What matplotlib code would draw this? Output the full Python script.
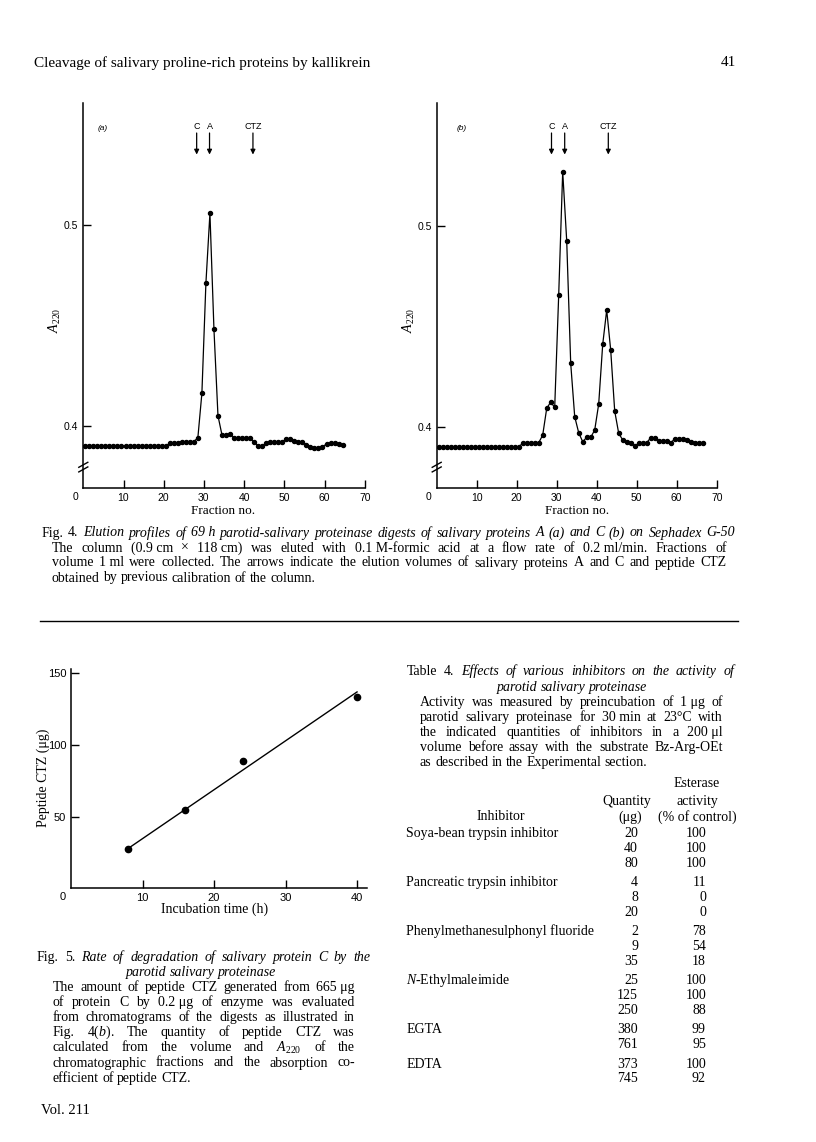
import numpy as np
import matplotlib
matplotlib.use('Agg')
import matplotlib.pyplot as plt

W, H = 816, 1142
SERIF = 'Liberation Serif'
SANS = 'Liberation Sans'
plt.rcParams['font.family'] = SANS
plt.rcParams['mathtext.fontset'] = 'custom'
plt.rcParams['mathtext.rm'] = SERIF
plt.rcParams['mathtext.it'] = SERIF + ':italic'
plt.rcParams['mathtext.bf'] = SERIF + ':bold'

# Fig. 4(a): protein A digest
frac_a = np.arange(0.5, 65, 1.0)
a220_a = [0.390, 0.390, 0.390, 0.390, 0.390, 0.390, 0.390, 0.390, 0.390, 0.390,
          0.390, 0.390, 0.390, 0.390, 0.390, 0.390, 0.390, 0.390, 0.390, 0.390,
          0.390, 0.3914, 0.3914, 0.3914, 0.3922, 0.3922, 0.3922, 0.3922, 0.3942, 0.4163,
          0.4711, 0.5058, 0.4481, 0.4051, 0.3955, 0.3955, 0.3960, 0.3942, 0.3939, 0.3939,
          0.3939, 0.3939, 0.3920, 0.3900, 0.3900, 0.3914, 0.3922, 0.3922, 0.3922, 0.3922,
          0.3935, 0.3935, 0.3925, 0.3922, 0.3922, 0.3905, 0.3897, 0.3889, 0.3889, 0.3897,
          0.3910, 0.3914, 0.3914, 0.3910, 0.3905]
arrows_a = {'C': 28.2, 'A': 31.4, 'CTZ': 42.2}

# Fig. 4(b): protein C digest
frac_b = np.arange(0.5, 67, 1.0)
a220_b = [0.390, 0.390, 0.390, 0.390, 0.390, 0.390, 0.390, 0.390, 0.390, 0.390,
          0.390, 0.390, 0.390, 0.390, 0.390, 0.390, 0.390, 0.390, 0.390, 0.390,
          0.390, 0.3917, 0.3920, 0.3920, 0.3920, 0.3920, 0.3958, 0.4091, 0.4123, 0.4096,
          0.4656, 0.5271, 0.4927, 0.4316, 0.4050, 0.3970, 0.3925, 0.3947, 0.3947, 0.3983,
          0.4113, 0.4410, 0.4581, 0.4382, 0.4078, 0.3967, 0.3934, 0.3925, 0.3920, 0.3905,
          0.3917, 0.3917, 0.3920, 0.3945, 0.3945, 0.3929, 0.3929, 0.3929, 0.3920, 0.3939,
          0.3939, 0.3939, 0.3934, 0.3925, 0.3917, 0.3917, 0.3917]
arrows_b = {'C': 28.7, 'A': 32.0, 'CTZ': 42.9}

# Fig. 5
time_h = [8, 16, 24, 40]
ctz_ug = [27.4, 54.7, 89.0, 133.7]
fit_h = [8.2, 40]
fit_ug = [28.5, 137.0]

# Table 4
inhibitors = ['Soya-bean trypsin inhibitor', 'Pancreatic trypsin inhibitor',
              'Phenylmethanesulphonyl fluoride', r'$\mathit{N}$-Ethylmaleimide',
              'EGTA', 'EDTA']
quantity = [[20, 40, 80], [4, 8, 20], [2, 9, 35], [25, 125, 250], [380, 761], [373, 745]]
activity = [[100, 100, 100], [11, 0, 0], [78, 54, 18], [100, 100, 88], [99, 95], [100, 92]]

fig = plt.figure(figsize=(W / 100, H / 100), dpi=100)
fig.patch.set_facecolor('white')
renderer = fig.canvas.get_renderer()


def P(x, y):
    return x / W, 1 - y / H


def text_line(x0, y, runs, size, x1=None, ha='left'):
    # words are placed one by one so that justified lines fill the measure
    words = [(w.replace('~', ' '), st) for txt, st in runs for w in txt.split()]
    arts = [fig.text(0, 0, w, family=SERIF, style=st, fontsize=size, va='baseline')
            for w, st in words]
    widths = [a.get_window_extent(renderer).width for a in arts]
    space = 0.25 * size * 100 / 72
    if x1 is not None and len(arts) > 1:
        gap = (x1 - x0 - sum(widths)) / (len(arts) - 1)
        x = x0
    else:
        gap = space
        total = sum(widths) + space * (len(arts) - 1)
        x = x0 - total / 2 if ha == 'center' else x0
    for a, wd in zip(arts, widths):
        a.set_position(P(x, y))
        x += wd + gap


def add_axes(l, t, r, b):
    return fig.add_axes([l / W, 1 - b / H, (r - l) / W, (b - t) / H])


def style(ax, size):
    for s in ['top', 'right']:
        ax.spines[s].set_visible(False)
    for s in ['left', 'bottom']:
        ax.spines[s].set_linewidth(1.1)
    ax.tick_params(direction='in', length=6, width=1.0, labelsize=size, pad=3.5)
    ax.patch.set_alpha(0)


# header
fig.text(*P(34.5, 66.5), 'Cleavage of salivary proline-rich proteins by kallikrein',
         family=SERIF, fontsize=11, va='baseline')
fig.text(*P(736, 66.5), '41', family=SERIF, fontsize=11, va='baseline', ha='right')

# Fig. 4 panels
panels = [
    ((83.3, 103, 364.7, 487.7), (0.3693, 0.5607), frac_a, a220_a, arrows_a, '(a)', 103, 223),
    ((436.7, 103, 716.7, 487.7), (0.3696, 0.5613), frac_b, a220_b, arrows_b, '(b)', 462, 577),
]
for box, ylim, fx, fy, arr, tag, tag_x, xlab_x in panels:
    ax = add_axes(*box)
    style(ax, 7.5)
    ax.plot(fx, fy, '-o', color='k', lw=0.9, ms=2.9)
    ax.set_xlim(0, 70)
    ax.set_ylim(*ylim)
    ax.set_xticks([10, 20, 30, 40, 50, 60, 70])
    ax.set_yticks([0.4, 0.5])
    ax.set_yticklabels(['0.4', '0.5'])
    for name, pos in arr.items():
        ax.annotate('', xy=(pos, 0.866), xytext=(pos, 0.922),
                    xycoords=('data', 'axes fraction'),
                    arrowprops=dict(arrowstyle='-|>', lw=0.9, color='k',
                                    mutation_scale=7, shrinkA=0, shrinkB=0))
        ax.text(pos, 0.926, name, transform=ax.get_xaxis_transform(),
                ha='center', va='bottom', fontsize=6.5)
    # axis break marks
    for dy in (-0.006, 0.006):
        ax.plot([-0.016, 0.016], [0.047 + dy, 0.060 + dy], transform=ax.transAxes,
                color='k', lw=1.0, clip_on=False)
    l = box[0]
    fig.text(*P(tag_x, 129), tag, fontsize=6, style='italic', va='center', ha='center')
    fig.text(*P(l - 8, 497), '0', fontsize=7.5, va='center', ha='center')
    fig.text(*P(xlab_x, 514), 'Fraction no.', family=SERIF, fontsize=9.5,
             va='baseline', ha='center')
    fig.text(*P(l - 28, 320), r'$\mathit{A}_{220}$', family=SERIF, fontsize=10,
             rotation=90, va='center', ha='center')

# Fig. 4 caption
text_line(41.7, 536.5, [('Fig. 4.', 'normal'),
                        ('Elution profiles of 69~h parotid-salivary proteinase digests of '
                         'salivary proteins A (a) and C (b) on Sephadex G-50', 'italic')],
          10, x1=735)
text_line(52, 551.5, [('The column (0.9~cm × 118~cm) was eluted with 0.1~M-formic acid at a '
                       'flow rate of 0.2~ml/min. Fractions of', 'normal')], 10, x1=727)
text_line(52, 566.5, [('volume 1~ml were collected. The arrows indicate the elution volumes '
                       'of salivary proteins A and C and peptide CTZ', 'normal')], 10, x1=727)
text_line(52, 581.5, [('obtained by previous calibration of the column.', 'normal')], 10)

# rule
fig.add_artist(plt.Line2D([40 / W, 738 / W], [1 - 621 / H, 1 - 621 / H], color='k', lw=1.0))

# Fig. 5
ax5 = add_axes(71, 669, 366.7, 888.3)
style(ax5, 8)
ax5.plot(fit_h, fit_ug, color='k', lw=1.0)
ax5.plot(time_h, ctz_ug, 'o', color='k', ms=4.5)
ax5.set_xlim(0, 41.35)
ax5.set_ylim(0, 153)
ax5.set_xticks([10, 20, 30, 40])
ax5.set_yticks([50, 100, 150])
fig.text(*P(63, 897), '0', fontsize=8, va='center', ha='center')
fig.text(*P(214.5, 913), 'Incubation time (h)', family=SERIF, fontsize=10,
         va='baseline', ha='center')
fig.text(*P(43, 778), 'Peptide CTZ (μg)', family=SERIF, fontsize=10,
         rotation=90, va='center', ha='center')

# Fig. 5 caption
text_line(37, 961, [('Fig. 5.', 'normal'),
                    ('Rate of degradation of salivary protein C by the', 'italic')],
          10, x1=370)
text_line(201, 976, [('parotid salivary proteinase', 'italic')], 10, ha='center')
cap5 = ['The amount of peptide CTZ generated from 665~μg',
        'of protein C by 0.2~μg of enzyme was evaluated',
        'from chromatograms of the digests as illustrated in',
        r'Fig. 4($\mathit{b}$). The quantity of peptide CTZ was',
        r'calculated from the volume and $\mathit{A}_{220}$ of the',
        'chromatographic fractions and the absorption co-']
for i, s in enumerate(cap5):
    text_line(52.7, 991 + 15.1 * i, [(s, 'normal')], 10, x1=355)
text_line(52.7, 1082, [('efficient of peptide CTZ.', 'normal')], 10)
fig.text(*P(40.7, 1114.5), 'Vol. 211', family=SERIF, fontsize=10.5, va='baseline')

# Table 4
text_line(407, 675, [('Table 4.', 'normal'),
                     ('Effects of various inhibitors on the activity of', 'italic')],
          10, x1=734)
text_line(572, 691, [('parotid salivary proteinase', 'italic')], 10, ha='center')
body = ['Activity was measured by preincubation of 1~μg of',
        'parotid salivary proteinase for 30~min at 23°C with',
        'the indicated quantities of inhibitors in a 200~μl',
        'volume before assay with the substrate Bz-Arg-OEt']
for i, s in enumerate(body):
    text_line(420, 706 + 15 * i, [(s, 'normal')], 10, x1=723)
text_line(420, 766, [('as described in the Experimental section.', 'normal')], 10)

for s, x, y in [('Esterase', 697, 787), ('Quantity', 627, 805), ('activity', 697, 805),
                ('Inhibitor', 501, 820), ('(μg)', 630, 821), ('(% of control)', 697, 821)]:
    fig.text(*P(x, y), s, family=SERIF, fontsize=10, va='baseline', ha='center')

row = 0
for g, name in enumerate(inhibitors):
    for k in range(len(quantity[g])):
        y = 837 + row * 14.8 + g * 4.7
        if k == 0:
            fig.text(*P(406.5, y), name, family=SERIF, fontsize=10, va='baseline')
        fig.text(*P(638, y), str(quantity[g][k]), family=SERIF, fontsize=10,
                 va='baseline', ha='right')
        fig.text(*P(706, y), str(activity[g][k]), family=SERIF, fontsize=10,
                 va='baseline', ha='right')
        row += 1

fig.savefig('out.png', dpi=100, facecolor='white')
